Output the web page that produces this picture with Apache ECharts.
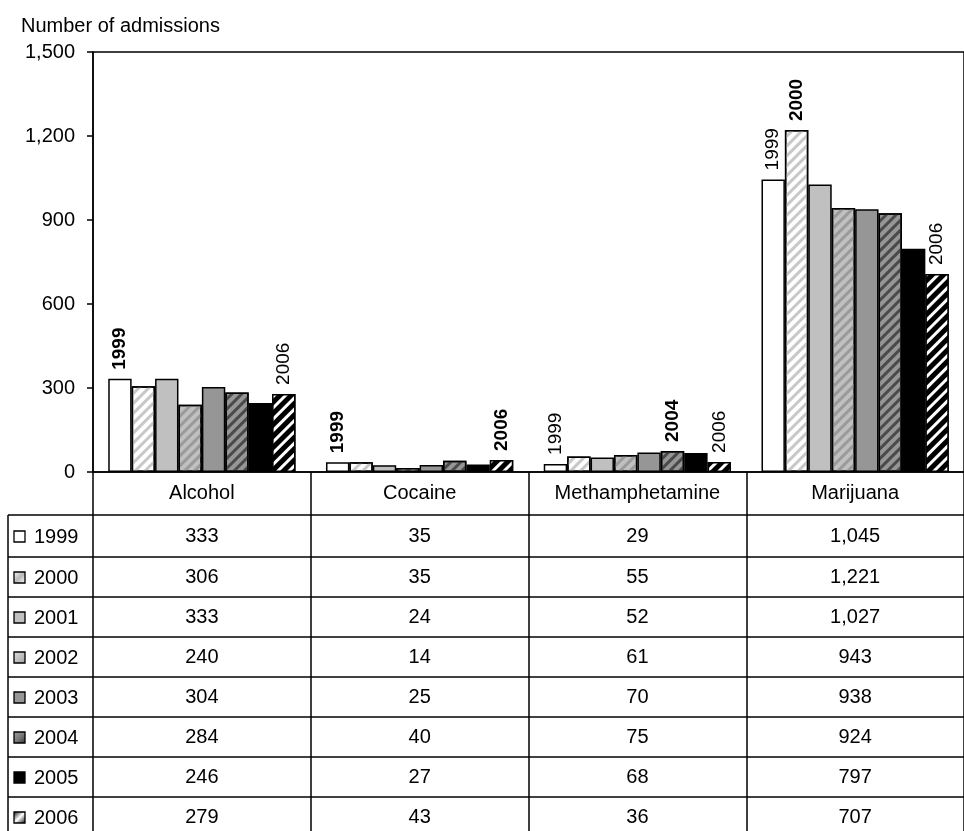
<!DOCTYPE html>
<html>
<head>
<meta charset="utf-8">
<script src="https://cdn.jsdelivr.net/npm/echarts@6/dist/echarts.min.js"></script>
<style>
  html, body { margin: 0; padding: 0; background: #fff; }
  #chart { width: 964px; height: 831px; }
</style>
</head>
<body>
<div id="chart"></div>
<script>
// data
var categories = ['Alcohol', 'Cocaine', 'Methamphetamine', 'Marijuana'];
var years = ['1999', '2000', '2001', '2002', '2003', '2004', '2005', '2006'];
var alcohol = [333, 306, 333, 240, 304, 284, 246, 279];
var cocaine = [35, 35, 24, 14, 25, 40, 27, 43];
var meth = [29, 55, 52, 61, 70, 75, 68, 36];
var marijuana = [1045, 1221, 1027, 943, 938, 924, 797, 707];
var yMax = 1500;
var yStep = 300;
// [year index, category index, bold]
var barTags = [[0, 0, true], [7, 0, false], [0, 1, true], [7, 1, true],
  [0, 2, false], [5, 2, true], [7, 2, false], [0, 3, false], [1, 3, true], [7, 3, false]];

var FONT = '"Liberation Sans", Arial, sans-serif';
var fills = ['#ffffff', '#ffffff', '#c0c0c0', '#c0c0c0', '#969696', '#969696', '#000000', '#000000'];
var stripes = [null, '#c8c8c8', null, '#9a9a9a', null, '#4a4a4a', null, '#ffffff'];
var stripeDash = [null, [3, 4], null, [3, 4], null, [3, 4], null, [2.5, 4.5]];

var byCat = [alcohol, cocaine, meth, marijuana];

function fmt(v) { return v.toLocaleString('en-US'); }

var series = years.map(function (y, i) {
  var data = byCat.map(function (arr, j) {
    var item = { value: arr[i] };
    barTags.forEach(function (t) {
      if (t[0] === i && t[1] === j) {
        item.label = { show: true, fontWeight: t[2] ? 'bold' : 'normal' };
      }
    });
    return item;
  });
  var style = { color: fills[i], borderColor: '#000', borderWidth: 1.5 };
  if (stripes[i]) {
    style.decal = {
      symbol: 'rect', symbolSize: 1,
      dashArrayX: [1, 0], dashArrayY: stripeDash[i],
      rotation: -Math.PI / 4, color: stripes[i]
    };
  }
  return {
    name: y, type: 'bar', data: data,
    barGap: '0%', barCategoryGap: '14%',
    itemStyle: style,
    label: {
      show: false, position: 'top', rotate: 90, align: 'left', verticalAlign: 'middle',
      distance: 9, fontSize: 19, color: '#000', fontFamily: FONT,
      formatter: function () { return y; }
    }
  };
});

var chart = echarts.init(document.getElementById('chart'));
chart.setOption({
  animation: false,
  title: {
    text: 'Number of admissions', left: 16, top: 11,
    textStyle: { fontSize: 20, fontWeight: 'normal', color: '#000', fontFamily: FONT }
  },
  grid: { left: 93, top: 52, width: 884, height: 420, show: true, borderColor: '#000', borderWidth: 1.5 },
  xAxis: {
    type: 'category', data: categories,
    axisLine: { lineStyle: { color: '#000', width: 1.5 } },
    axisTick: { show: true, length: 360, lineStyle: { color: '#000', width: 1.5 } },
    axisLabel: { margin: 11, fontSize: 20, color: '#000', fontFamily: FONT }
  },
  yAxis: {
    type: 'value', min: 0, max: yMax, interval: yStep,
    splitLine: { show: false },
    axisLine: { show: true, lineStyle: { color: '#000', width: 1.5 } },
    axisTick: { show: true, length: 6, lineStyle: { color: '#000', width: 1.5 } },
    axisLabel: { margin: 18, fontSize: 20, color: '#000', fontFamily: FONT, formatter: fmt }
  },
  series: series
});

// data table under the axis
var rowTops = [515, 557, 597, 637, 677, 717, 757, 797];
function diag(a, b, c) {
  return { type: 'linear', x: 0, y: 0, x2: 1, y2: 1,
    colorStops: [{ offset: 0, color: a }, { offset: 0.5, color: b }, { offset: 1, color: c }] };
}
var swatch = [
  '#ffffff',
  diag('#ffffff', '#b8b8b8', '#ffffff'),
  '#c0c0c0',
  diag('#e0e0e0', '#c0c0c0', '#a0a0a0'),
  '#969696',
  diag('#a0a0a0', '#7a7a7a', '#333333'),
  '#000000',
  diag('#000000', '#ffffff', '#000000')
];
var g = [];
rowTops.forEach(function (top) {
  g.push({ type: 'line', shape: { x1: 8, y1: top, x2: 964, y2: top }, style: { stroke: '#000', lineWidth: 1.5 } });
});
g.push({ type: 'line', shape: { x1: 8, y1: rowTops[0], x2: 8, y2: 831 }, style: { stroke: '#000', lineWidth: 1.5 } });
years.forEach(function (y, i) {
  var next = i + 1 < rowTops.length ? rowTops[i + 1] : rowTops[i] + 40;
  var cy = (rowTops[i] + next) / 2 + 1;
  g.push({ type: 'rect', shape: { x: 14, y: cy - 6, width: 11, height: 11 }, style: { fill: swatch[i], stroke: '#000', lineWidth: 1.3 } });
  g.push({ type: 'text', x: 34, y: cy, style: { text: y, font: '20px ' + FONT, fill: '#000', verticalAlign: 'middle', align: 'left' } });
  categories.forEach(function (c, j) {
    var cx = chart.convertToPixel({ xAxisIndex: 0 }, c);
    g.push({ type: 'text', x: cx, y: cy - 1, style: { text: fmt(byCat[j][i]), font: '20px ' + FONT, fill: '#000', verticalAlign: 'middle', align: 'center' } });
  });
});
chart.setOption({ graphic: g });
</script>
</body>
</html>
